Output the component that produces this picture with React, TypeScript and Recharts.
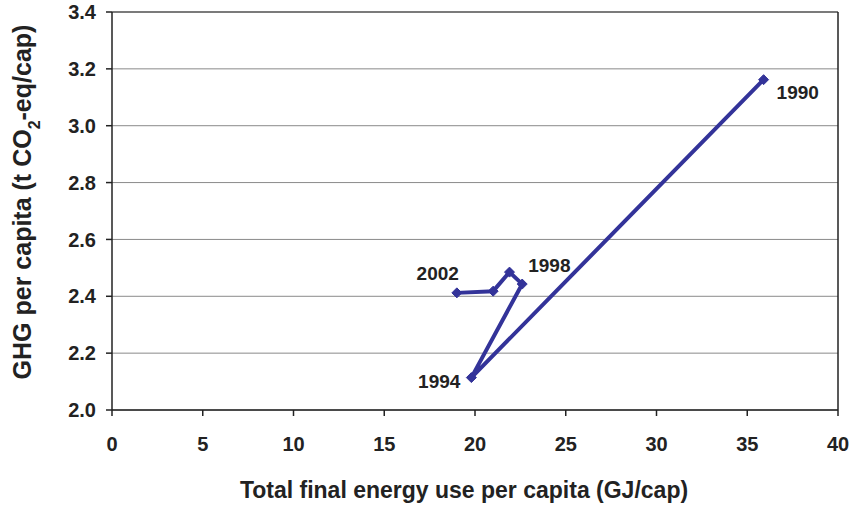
import { CartesianGrid, LabelList, Line, LineChart, ReferenceLine, XAxis, YAxis, Label } from "recharts";

// energy use per capita (GJ/cap) and GHG per capita (t CO2-eq/cap), in time order
const energyUse = [35.9, 19.8, 22.6, 21.9, 21.0, 19.0];
const ghg = [3.162, 2.114, 2.443, 2.485, 2.418, 2.412];
const pointLabels = ["1990", "1994", "1998", "", "", "2002"];

const xTicks = [0, 5, 10, 15, 20, 25, 30, 35, 40];
const yTicks = [2.0, 2.2, 2.4, 2.6, 2.8, 3.0, 3.2, 3.4];

const data = energyUse.map((x, i) => ({ x, y: ghg[i], year: pointLabels[i] }));

// where each year label sits relative to its point
const labelPlacement: Record<string, { dx: number; dy: number; anchor: "start" | "end" }> = {
  "1990": { dx: 13, dy: 19, anchor: "start" },
  "1994": { dx: -11, dy: 10, anchor: "end" },
  "1998": { dx: 6, dy: -12, anchor: "start" },
  "2002": { dx: 2, dy: -13, anchor: "end" },
};

const LINE = "#333399";
const TEXT = "#222";
const FONT = "'Liberation Sans', Arial, sans-serif";

const Diamond = (props: any) => {
  const { cx, cy } = props;
  if (cx == null || cy == null) return null;
  const r = 5;
  return (
    <polygon
      points={`${cx},${cy - r} ${cx + r},${cy} ${cx},${cy + r} ${cx - r},${cy}`}
      fill={LINE}
      stroke={LINE}
    />
  );
};

const YearLabel = (props: any) => {
  const { x, y, value } = props;
  const p = labelPlacement[value];
  if (!p) return null;
  return (
    <text
      x={x + p.dx}
      y={y + p.dy}
      textAnchor={p.anchor}
      fontFamily={FONT}
      fontWeight="bold"
      fontSize={19}
      fill={TEXT}
    >
      {value}
    </text>
  );
};

const YTitle = (props: any) => {
  const { viewBox } = props;
  const cx = viewBox.x + 31;
  const cy = viewBox.y + viewBox.height / 2 - 9;
  return (
    <text
      x={cx}
      y={cy}
      transform={`rotate(-90 ${cx} ${cy})`}
      textAnchor="middle"
      fontFamily={FONT}
      fontWeight="bold"
      fontSize={25}
      fill={TEXT}
    >
      GHG per capita (t CO
      <tspan fontSize={16} baselineShift="sub">2</tspan>
      -eq/cap)
    </text>
  );
};

const XTitle = (props: any) => {
  const { viewBox } = props;
  return (
    <text
      x={viewBox.x + viewBox.width / 2 - 11}
      y={viewBox.y + 88}
      textAnchor="middle"
      fontFamily={FONT}
      fontWeight="bold"
      fontSize={23}
      fill={TEXT}
    >
      Total final energy use per capita (GJ/cap)
    </text>
  );
};

export default function App() {
  return (
    <div style={{ position: "absolute", left: 0, top: 0, background: "#fff" }}>
      <LineChart
        width={853}
        height={510}
        data={data}
        margin={{ top: 12, right: 15, left: 0, bottom: 0 }}
      >
        <CartesianGrid horizontal vertical={false} stroke="#8a8a8a" strokeWidth={1} />
        <XAxis
          dataKey="x"
          type="number"
          domain={[0, 40]}
          ticks={xTicks}
          height={100}
          tickSize={6}
          tickMargin={21}
          stroke="#222"
          strokeWidth={1.5}
          tick={{ fontFamily: FONT, fontWeight: "bold", fontSize: 20, fill: TEXT }}
        >
          <Label content={XTitle} />
        </XAxis>
        <YAxis
          dataKey="y"
          type="number"
          domain={[2, 3.4]}
          ticks={yTicks}
          width={112}
          tickSize={6}
          tickMargin={10}
          stroke="#222"
          strokeWidth={1.5}
          tickFormatter={(v: number) => v.toFixed(1)}
          tick={{ fontFamily: FONT, fontWeight: "bold", fontSize: 20, fill: TEXT }}
        >
          <Label content={YTitle} />
        </YAxis>
        <ReferenceLine y={3.4} stroke="#333" strokeWidth={1.2} />
        <ReferenceLine x={40} stroke="#222" strokeWidth={1.5} />
        <Line
          dataKey="y"
          stroke={LINE}
          strokeWidth={4}
          strokeLinejoin="miter"
          dot={<Diamond />}
          activeDot={false}
          isAnimationActive={false}
        >
          <LabelList dataKey="year" content={YearLabel} />
        </Line>
      </LineChart>
    </div>
  );
}
